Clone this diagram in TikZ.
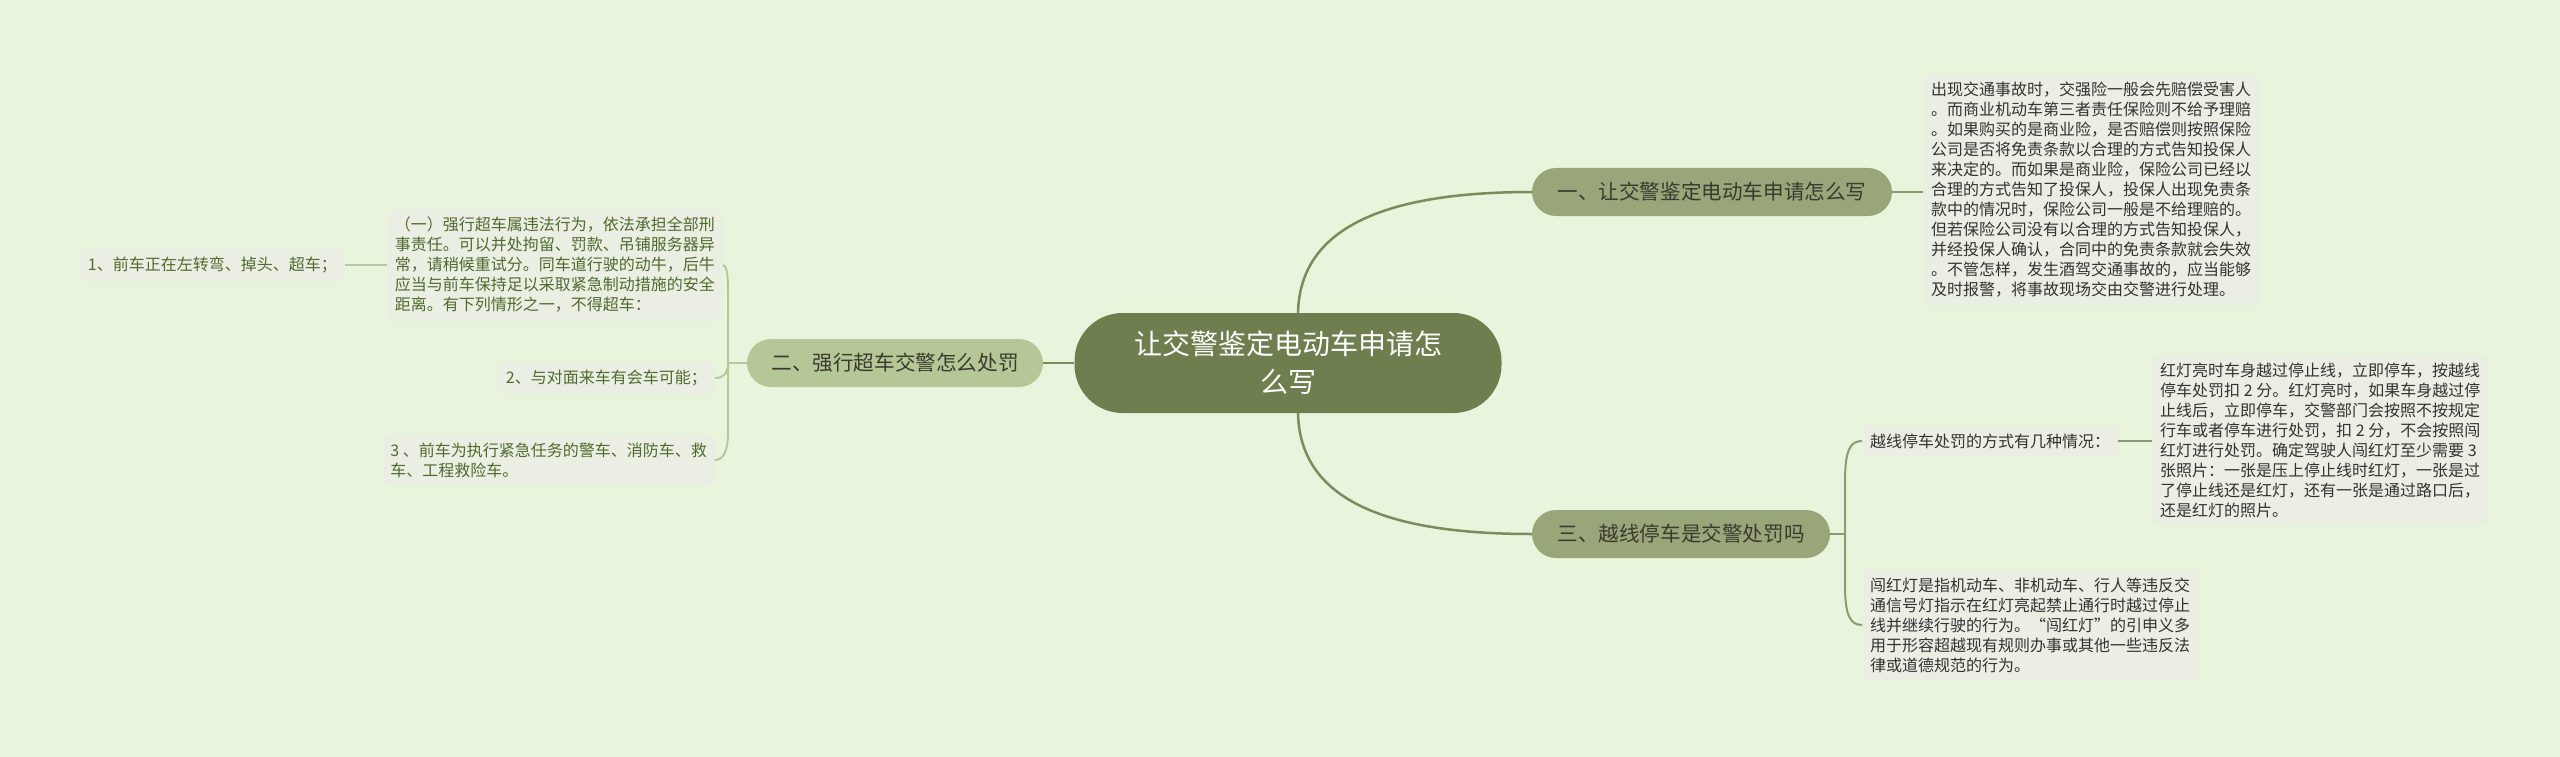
\documentclass[tikz,border=0pt]{standalone}
\usepackage{fontspec}
\setmainfont{Noto Sans CJK SC}
\definecolor{bgc}{HTML}{E8F5DC}
\definecolor{cfill}{HTML}{6E7E4E}
\definecolor{bfill}{HTML}{98A679}
\definecolor{bfillL}{HTML}{B5C796}
\definecolor{boxc}{HTML}{EBEEE3}
\definecolor{maincol}{HTML}{7B8B5B}
\definecolor{rcol}{HTML}{8C9B6D}
\definecolor{lcol}{HTML}{B6C89B}
\definecolor{darktxt}{HTML}{3A3A2E}
\definecolor{graytxt}{HTML}{333333}
\definecolor{greentxt}{HTML}{4F6B2D}
\begin{document}
\begin{tikzpicture}[x=1pt,y=-1pt,
  centernode/.style={fill=cfill, rounded corners=48pt, minimum width=427pt, minimum height=100pt,
    inner sep=0pt, align=center, text=white, font=\fontsize{28}{38}\selectfont},
  branchnode/.style={rounded corners=24pt, minimum height=48pt, inner sep=0pt,
    text=darktxt, font=\fontsize{20.6}{24}\selectfont},
  tbox/.style={fill=boxc, rounded corners=6pt, inner xsep=8pt, inner ysep=8pt, align=left,
    text=graytxt, font=\fontsize{16}{20}\selectfont},
  tboxl/.style={tbox, text=greentxt},
  mainc/.style={draw=maincol, line width=2.5pt},
  rconn/.style={draw=rcol, line width=2pt},
  lconn/.style={draw=lcol, line width=2pt}
]
\useasboundingbox (0,0) rectangle (2560,757);
\fill[bgc] (0,0) rectangle (2560,757);

% nodes
\node[centernode] (c) at (1288,363) {让交警鉴定电动车申请怎\\么写};
\node[branchnode, fill=bfill, minimum width=360pt] (b1) at (1712,192) {一、让交警鉴定电动车申请怎么写};
\node[branchnode, fill=bfillL, minimum width=296pt] (b2) at (895,363) {二、强行超车交警怎么处罚};
\node[branchnode, fill=bfill, minimum width=298pt] (b3) at (1681,534) {三、越线停车是交警处罚吗};

\node[tbox, anchor=west] (t1) at (1923,189.5) {出现交通事故时，交强险一般会先赔偿受害人\\
。而商业机动车第三者责任保险则不给予理赔\\
。如果购买的是商业险，是否赔偿则按照保险\\
公司是否将免责条款以合理的方式告知投保人\\
来决定的。而如果是商业险，保险公司已经以\\
合理的方式告知了投保人，投保人出现免责条\\
款中的情况时，保险公司一般是不给理赔的。\\
但若保险公司没有以合理的方式告知投保人，\\
并经投保人确认，合同中的免责条款就会失效\\
。不管怎样，发生酒驾交通事故的，应当能够\\
及时报警，将事故现场交由交警进行处理。};

\node[tbox, anchor=west] (l3) at (1862,441) {越线停车处罚的方式有几种情况：};

\node[tbox, anchor=west] (t3) at (2152,440) {红灯亮时车身越过停止线，立即停车，按越线\\
停车处罚扣 2 分。红灯亮时，如果车身越过停\\
止线后，立即停车，交警部门会按照不按规定\\
行车或者停车进行处罚，扣 2 分，不会按照闯\\
红灯进行处罚。确定驾驶人闯红灯至少需要 3\\
张照片：一张是压上停止线时红灯，一张是过\\
了停止线还是红灯，还有一张是通过路口后，\\
还是红灯的照片。};

\node[tbox, anchor=west] (t4) at (1862,625) {闯红灯是指机动车、非机动车、行人等违反交\\
通信号灯指示在红灯亮起禁止通行时越过停止\\
线并继续行驶的行为。“闯红灯”的引申义多\\
用于形容超越现有规则办事或其他一些违反法\\
律或道德规范的行为。};

\node[tboxl, anchor=east] (lA) at (723,265) {（一）强行超车属违法行为，依法承担全部刑\\
事责任。可以并处拘留、罚款、吊铺服务器异\\
常，请稍候重试分。同车道行驶的动牛，后牛\\
应当与前车保持足以采取紧急制动措施的安全\\
距离。有下列情形之一，不得超车：};

\node[tboxl, anchor=east] (l1) at (345,265) {1、前车正在左转弯、掉头、超车；};
\node[tboxl, anchor=east] (l2) at (715,378) {2、与对面来车有会车可能；};
\node[tboxl, anchor=east] (l4) at (715,460) {3 、前车为执行紧急任务的警车、消防车、救\\
车、工程救险车。};

% junctions
\coordinate (j2) at (728,363);
\coordinate (j3) at (1845,534);

% main connectors
\draw[mainc] (c.west) -- (b2.east);
\draw[mainc] ([xshift=10pt]c.north) .. controls (1300,225) and (1390,192) .. (b1.west);
\draw[mainc] ([xshift=10pt]c.south) .. controls (1300,502) and (1390,534) .. (b3.west);

% right connectors
\draw[rconn] (b1.east) -- (b1.east -| t1.west);
\draw[rconn] (b3.east) -- (j3);
\draw[rconn] (j3) -- (1845,482) .. controls (1845,450) and (1850,441) .. (l3.west);
\draw[rconn] (j3) -- (1845,585) .. controls (1845,615) and (1850,625) .. (t4.west);
\draw[rconn] (l3.east) -- (l3.east -| t3.west);

% left connectors
\draw[lconn] (b2.west) -- (j2);
\draw[lconn] (j2) -- (728,290) .. controls (728,272) and (726,265) .. (lA.east);
\draw[lconn] (j2) .. controls (728,374) and (723,378) .. (l2.east);
\draw[lconn] (j2) -- (728,432) .. controls (728,452) and (723,460) .. (l4.east);
\draw[lconn] (l1.east) -- (lA.west);
\end{tikzpicture}
\end{document}
